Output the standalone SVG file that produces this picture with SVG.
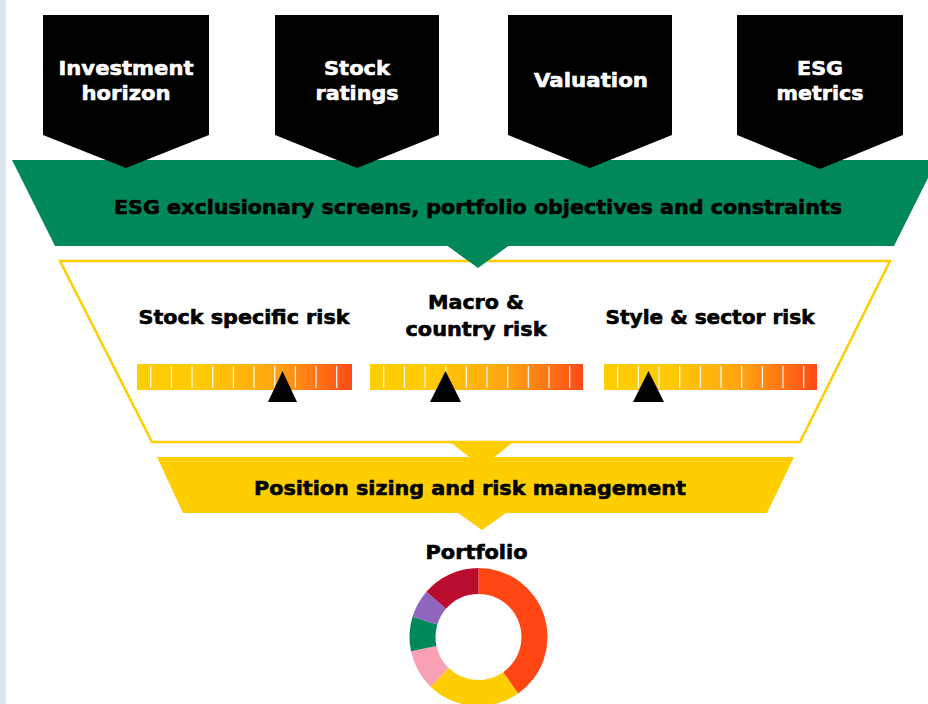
<svg xmlns="http://www.w3.org/2000/svg" width="928" height="704" viewBox="0 0 928 704">
<defs>
<linearGradient id="riskGrad" x1="0" y1="0" x2="1" y2="0">
<stop offset="0" stop-color="#ffce00"/>
<stop offset="0.3" stop-color="#ffca04"/>
<stop offset="0.65" stop-color="#ffa312"/>
<stop offset="1" stop-color="#ff4a17"/>
</linearGradient>
<g id="ticks">
<path d="M13.7,2V24M34.4,2V24M55,2V24M75.7,2V24M96.4,2V24M117,2V24M137.7,2V24M158.4,2V24M179,2V24M199.7,2V24" stroke="#ffffff" stroke-width="1.3" opacity="0.9"/>
</g>
</defs>
<style>
.wt{font-family:"DejaVu Sans","Liberation Sans",sans-serif;font-weight:bold;fill:#ffffff;stroke:#ffffff;stroke-width:0.6;text-anchor:middle}
.bt{font-family:"DejaVu Sans","Liberation Sans",sans-serif;font-weight:bold;fill:#000000;stroke:#000000;stroke-width:0.6;text-anchor:middle}
.box{fill:#000000}
.bar{fill:url(#riskGrad)}
.ptr{fill:#000000}
</style>
<rect x="0" y="0" width="928" height="704" fill="#ffffff"/>
<rect x="0" y="0" width="6" height="704" fill="#dce4ef"/>

<g id="esg-screens">
<polygon points="12,160 937,160 894,246 508,246 478,268 448,246 55,246" fill="#00885a"/>
<text class="bt" x="478" y="214" font-size="19" textLength="728" lengthAdjust="spacingAndGlyphs">ESG exclusionary screens, portfolio objectives and constraints</text>
</g>

<g id="investment-horizon">
<polygon class="box" points="43,15 209,15 209,135 126,168 43,135"/>
<text class="wt" font-size="20"><tspan x="126" y="75" textLength="135" lengthAdjust="spacingAndGlyphs">Investment</tspan><tspan x="126" y="100" textLength="89" lengthAdjust="spacingAndGlyphs">horizon</tspan></text>
</g>
<g id="stock-ratings">
<polygon class="box" points="275,15 439,15 439,135 357,168 275,135"/>
<text class="wt" font-size="20"><tspan x="357" y="75" textLength="66" lengthAdjust="spacingAndGlyphs">Stock</tspan><tspan x="357" y="100" textLength="83" lengthAdjust="spacingAndGlyphs">ratings</tspan></text>
</g>
<g id="valuation">
<polygon class="box" points="508,15 672,15 672,135 590,168 508,135"/>
<text class="wt" font-size="20" x="591" y="87" textLength="114" lengthAdjust="spacingAndGlyphs">Valuation</text>
</g>
<g id="esg-metrics">
<polygon class="box" points="737,15 903,15 903,135 820,169 737,135"/>
<text class="wt" font-size="20"><tspan x="820" y="75" textLength="46" lengthAdjust="spacingAndGlyphs">ESG</tspan><tspan x="820" y="100" textLength="87" lengthAdjust="spacingAndGlyphs">metrics</tspan></text>
</g>

<g id="connectors">
<polygon points="450,442 513,442 482,467" fill="#ffce00"/>
</g>

<g id="risk-funnel">
<polygon points="60,261 890,261 800,442 152,442" fill="#ffffff" stroke="#ffce00" stroke-width="2.5" stroke-linejoin="miter"/>
<polygon points="448,246 508,246 478,268" fill="#00885a"/>
</g>

<g id="stock-specific-risk">
<text class="bt" font-size="19" x="244" y="324" textLength="211" lengthAdjust="spacingAndGlyphs">Stock specific risk</text>
<rect class="bar" x="137" y="364" width="215" height="26"/>
<use href="#ticks" x="137" y="364"/>
<polygon class="ptr" points="268,402 297,402 282.5,371"/>
</g>
<g id="macro-country-risk">
<text class="bt" font-size="20"><tspan x="476" y="309" textLength="96" lengthAdjust="spacingAndGlyphs">Macro &amp;</tspan><tspan x="476" y="336" textLength="141" lengthAdjust="spacingAndGlyphs">country risk</tspan></text>
<rect class="bar" x="370" y="364" width="213" height="26"/>
<use href="#ticks" x="370" y="364"/>
<polygon class="ptr" points="430,402 461,402 445.5,371"/>
</g>
<g id="style-sector-risk">
<text class="bt" font-size="19" x="710" y="324" textLength="209" lengthAdjust="spacingAndGlyphs">Style &amp; sector risk</text>
<rect class="bar" x="604" y="364" width="213" height="26"/>
<use href="#ticks" x="604" y="364"/>
<polygon class="ptr" points="633,402 664,402 648.5,371"/>
</g>

<g id="position-sizing">
<polygon points="157,457 794,457 767,513 506,513 482,530 458,513 183,513" fill="#ffce00"/>
<text class="bt" font-size="20" x="470" y="495" textLength="432" lengthAdjust="spacingAndGlyphs">Position sizing and risk management</text>
</g>

<g id="portfolio">
<text class="bt" font-size="19" x="476.5" y="559" textLength="102" lengthAdjust="spacingAndGlyphs">Portfolio</text>
<path d="M478.5,568 A69,69 0 0 1 518.08,693.52 L503.16,672.22 A43,43 0 0 0 478.5,594 Z" fill="#ff4713"/>
<path d="M518.08,693.52 A69,69 0 0 1 430.57,686.63 L448.63,667.930 A43,43 0 0 0 503.16,672.22 Z" fill="#ffce00"/>
<path d="M430.57,686.63 A69,69 0 0 1 411.01,651.35 L436.44,645.94 A43,43 0 0 0 448.63,667.93 Z" fill="#f9a1b4"/>
<path d="M411.01,651.35 A69,69 0 0 1 412.52,616.82 L437.38,624.43 A43,43 0 0 0 436.44,645.94 Z" fill="#00885a"/>
<path d="M412.52,616.82 A69,69 0 0 1 426.43,591.73 L446.05,608.79 A43,43 0 0 0 437.38,624.43 Z" fill="#9065bd"/>
<path d="M426.43,591.73 A69,69 0 0 1 478.5,568 L478.5,594 A43,43 0 0 0 446.05,608.79 Z" fill="#ba0c2f"/>
</g>
</svg>
